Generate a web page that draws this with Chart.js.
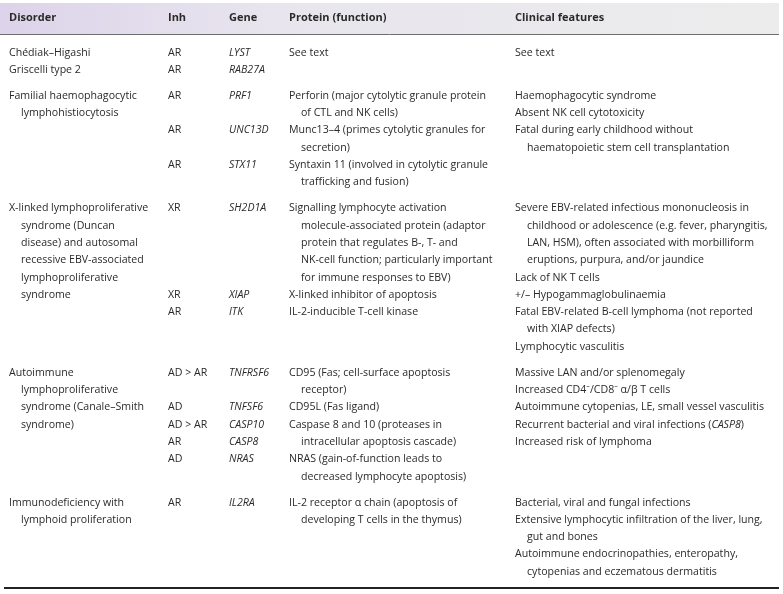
<!DOCTYPE html>
<html>
<head>
<meta charset="utf-8">
<script src="https://cdn.jsdelivr.net/npm/chart.js@4.4.1/dist/chart.umd.min.js"></script>
<style>
  html, body { margin: 0; padding: 0; background: #fff; }
  #wrap { width: 783px; height: 594px; }
</style>
</head>
<body>
<div id="wrap"><canvas id="tableChart" width="783" height="594"></canvas></div>
<script>
// column headers
const headers = ['Disorder', 'Inh', 'Gene', 'Protein (function)', 'Clinical features'];

// one array per table group, one string per printed line
// '\t' at the start = wrapped line (indented), '' = empty line, *x* = italic
const disorderLines = [
    ['Chédiak–Higashi', 'Griscelli type 2'],
    ['Familial haemophagocytic', '\tlymphohistiocytosis'],
    ['X-linked lymphoproliferative', '\tsyndrome (Duncan', '\tdisease) and autosomal',
     '\trecessive EBV-associated', '\tlymphoproliferative', '\tsyndrome'],
    ['Autoimmune', '\tlymphoproliferative', '\tsyndrome (Canale–Smith', '\tsyndrome)'],
    ['Immunodeficiency with', '\tlymphoid proliferation']
];

const inhLines = [
    ['AR', 'AR'],
    ['AR', '', 'AR', '', 'AR'],
    ['XR', '', '', '', '', 'XR', 'AR'],
    ['AD > AR', '', 'AD', 'AD > AR', 'AR', 'AD'],
    ['AR']
];

const geneLines = [
    ['LYST', 'RAB27A'],
    ['PRF1', '', 'UNC13D', '', 'STX11'],
    ['SH2D1A', '', '', '', '', 'XIAP', 'ITK'],
    ['TNFRSF6', '', 'TNFSF6', 'CASP10', 'CASP8', 'NRAS'],
    ['IL2RA']
];

const proteinLines = [
    ['See text'],
    ['Perforin (major cytolytic granule protein', '\tof CTL and NK cells)',
     'Munc13–4 (primes cytolytic granules for', '\tsecretion)',
     'Syntaxin 11 (involved in cytolytic granule', '\ttrafficking and fusion)'],
    ['Signalling lymphocyte activation', '\tmolecule-associated protein (adaptor',
     '\tprotein that regulates B-, T- and', '\tNK-cell function; particularly important',
     '\tfor immune responses to EBV)', 'X-linked inhibitor of apoptosis',
     'IL-2-inducible T-cell kinase'],
    ['CD95 (Fas; cell-surface apoptosis', '\treceptor)', 'CD95L (Fas ligand)',
     'Caspase 8 and 10 (proteases in', '\tintracellular apoptosis cascade)',
     'NRAS (gain-of-function leads to', '\tdecreased lymphocyte apoptosis)'],
    ['IL-2 receptor α chain (apoptosis of', '\tdeveloping T cells in the thymus)']
];

const clinicalLines = [
    ['See text'],
    ['Haemophagocytic syndrome', 'Absent NK cell cytotoxicity',
     'Fatal during early childhood without', '\thaematopoietic stem cell transplantation'],
    ['Severe EBV-related infectious mononucleosis in',
     '\tchildhood or adolescence (e.g. fever, pharyngitis,',
     '\tLAN, HSM), often associated with morbilliform',
     '\teruptions, purpura, and/or jaundice', 'Lack of NK T cells',
     '+/– Hypogammaglobulinaemia', 'Fatal EBV-related B-cell lymphoma (not reported',
     '\twith XIAP defects)', 'Lymphocytic vasculitis'],
    ['Massive LAN and/or splenomegaly', 'Increased CD4⁻/CD8⁻ α/β T cells',
     'Autoimmune cytopenias, LE, small vessel vasculitis',
     'Recurrent bacterial and viral infections (*CASP8*)', 'Increased risk of lymphoma'],
    ['Bacterial, viral and fungal infections',
     'Extensive lymphocytic infiltration of the liver, lung,', '\tgut and bones',
     'Autoimmune endocrinopathies, enteropathy,', '\tcytopenias and eczematous dermatitis']
];

// layout (pixels on the 783 x 594 axes)
const columnLeft = [9, 168, 229, 289, 515];
const columnItalic = [false, false, true, false, false];
const INDENT = 12;
const HEADER_Y = 17.5;
const FIRST_Y = 52.5;
const LINE_H = 17.3;
const GROUP_H = 26;
const FONT = '"Open Sans", "Noto Sans", sans-serif';
const BODY_SIZE = '10.6px ';
const TEXT_COLOR = '#2a2a2a';

const columns = [disorderLines, inhLines, geneLines, proteinLines, clinicalLines];

// start of each group on the y axis
const groupStart = [];
let yPos = FIRST_Y;
disorderLines.forEach(function(group, g) {
    groupStart.push(yPos);
    const n = Math.max.apply(null, columns.map(col => col[g].length));
    yPos += (n - 1) * LINE_H + GROUP_H;
});

// one dataset per column, one point per printed line
const datasets = columns.map(function(col, c) {
    const pts = [];
    col.forEach(function(group, g) {
        group.forEach(function(line, l) {
            if (!line) return;
            const wrapped = line.charAt(0) === '\t';
            pts.push({
                x: columnLeft[c] + (wrapped ? INDENT : 0),
                y: groupStart[g] + l * LINE_H,
                text: wrapped ? line.slice(1) : line
            });
        });
    });
    return { label: headers[c], data: pts, pointRadius: 0, italic: columnItalic[c] };
});

// draw a line with *italic* pieces
function drawRich(ctx, text, x, y, italic) {
    const parts = text.split('*');
    parts.forEach(function(part, i) {
        const it = italic !== (i % 2 === 1);
        ctx.font = (it ? 'italic ' : '') + BODY_SIZE + FONT;
        ctx.fillText(part, x, y);
        x += ctx.measureText(part).width;
    });
}

const tablePlugin = {
    id: 'tableText',
    beforeDatasetsDraw(chart) {
        const ctx = chart.ctx;
        const xs = chart.scales.x, ys = chart.scales.y;
        const left = xs.getPixelForValue(0), right = xs.getPixelForValue(779);
        const top = ys.getPixelForValue(3), bottom = ys.getPixelForValue(34);
        ctx.save();
        // header band
        const grad = ctx.createLinearGradient(left, 0, right, 0);
        grad.addColorStop(0, '#ddd3ea');
        grad.addColorStop(0.35, '#e8e5ee');
        grad.addColorStop(1, '#ececec');
        ctx.fillStyle = grad;
        ctx.fillRect(left, top, right - left, bottom - top);
        ctx.strokeStyle = '#6d6d6d';
        ctx.lineWidth = 1;
        ctx.beginPath();
        ctx.moveTo(left, bottom + 0.5);
        ctx.lineTo(right, bottom + 0.5);
        ctx.stroke();
        // closing rule
        const yEnd = ys.getPixelForValue(588);
        ctx.strokeStyle = '#222';
        ctx.lineWidth = 2;
        ctx.beginPath();
        ctx.moveTo(xs.getPixelForValue(4), yEnd);
        ctx.lineTo(right, yEnd);
        ctx.stroke();
        // header labels
        ctx.fillStyle = TEXT_COLOR;
        ctx.textBaseline = 'middle';
        ctx.font = 'bold 11px ' + FONT;
        headers.forEach(function(h, c) {
            ctx.fillText(h, xs.getPixelForValue(columnLeft[c]), ys.getPixelForValue(HEADER_Y));
        });
        ctx.restore();
    },
    afterDatasetsDraw(chart) {
        const ctx = chart.ctx;
        ctx.save();
        ctx.fillStyle = TEXT_COLOR;
        ctx.textBaseline = 'middle';
        chart.data.datasets.forEach(function(ds, i) {
            const meta = chart.getDatasetMeta(i);
            meta.data.forEach(function(pt, j) {
                drawRich(ctx, ds.data[j].text, pt.x, pt.y, ds.italic);
            });
        });
        ctx.restore();
    }
};

new Chart(document.getElementById('tableChart'), {
    type: 'scatter',
    data: { datasets: datasets },
    options: {
        responsive: false,
        animation: false,
        devicePixelRatio: 1,
        events: [],
        layout: { padding: 0 },
        plugins: { legend: { display: false }, tooltip: { enabled: false } },
        scales: {
            x: { type: 'linear', min: 0, max: 783, display: false },
            y: { type: 'linear', min: 0, max: 594, reverse: true, display: false }
        }
    },
    plugins: [tablePlugin]
});
</script>
</body>
</html>
